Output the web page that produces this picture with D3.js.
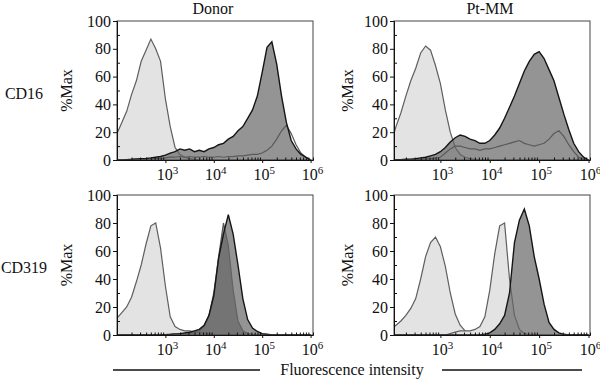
<!DOCTYPE html>
<html>
<head>
<meta charset="utf-8">
<script src="https://cdn.jsdelivr.net/npm/d3@7"></script>
<style>
  body { margin: 0; background: #fff; }
  svg { display: block; }
</style>
</head>
<body>
<div id="chart"></div>
<script>
// Histogram bins (log10 of fluorescence intensity)
const logBins = [2.0, 2.1, 2.2, 2.3, 2.4, 2.5, 2.6, 2.7, 2.8, 2.9,
                 3.0, 3.1, 3.2, 3.3, 3.4, 3.5, 3.6, 3.7, 3.8, 3.9,
                 4.0, 4.1, 4.2, 4.3, 4.4, 4.5, 4.6, 4.7, 4.8, 4.9,
                 5.0, 5.1, 5.2, 5.3, 5.4, 5.5, 5.6, 5.7, 5.8, 5.9, 6.0];

// %Max values per bin
const donorCD16Iso = [19, 27, 35, 47, 57, 71, 79, 87, 80, 71,
                      44, 24, 9, 4, 2, 1, 0.5, 0, 0, 0,
                      0, 0, 0, 0, 0, 0, 0, 0, 0, 0,
                      0, 0, 0, 0, 0, 0, 0, 0, 0, 0, 0];
const donorCD16A = [0, 0, 0.3, 0.5, 0.8, 1, 1.2, 1.5, 2, 2.5,
                    3.5, 5, 6, 8, 7, 8, 6, 7, 6, 8,
                    9, 11, 12, 15, 17, 21, 24, 30, 36, 46,
                    63, 81, 85, 69, 46, 27, 14, 8, 4, 2, 0];
const donorCD16B = [0, 0, 0, 0.3, 0.5, 0.5, 0.5, 0.8, 1, 1,
                    1.5, 2, 2, 2.5, 2, 2.5, 2, 2, 2.5, 2,
                    2, 2.5, 2, 2.5, 2.5, 3, 3, 3.5, 4, 4,
                    5, 7, 10, 15, 21, 25, 19, 11, 5, 2, 0];

const ptCD16Iso = [12, 24, 34, 46, 57, 66, 77, 82, 79, 68,
                   55, 36, 20, 9, 4, 2, 1, 0.5, 0, 0,
                   0, 0, 0, 0, 0, 0, 0, 0, 0, 0,
                   0, 0, 0, 0, 0, 0, 0, 0, 0, 0, 0];
const ptCD16A = [0, 0.2, 0.3, 0.5, 0.6, 1, 1.5, 2, 3, 4,
                 6, 9, 13, 16, 18, 17, 15, 14, 12, 12,
                 14, 18, 23, 30, 38, 46, 55, 64, 71, 76,
                 78, 73, 65, 57, 45, 33, 22, 12, 6, 2, 0];
const ptCD16B = [0, 0, 0, 0, 0.3, 0.5, 0.5, 0.8, 1, 1.5,
                 2, 5, 8, 10, 10, 9, 8, 8, 7, 8,
                 8, 9, 10, 11, 12, 13, 14, 12, 11, 10,
                 11, 12, 15, 19, 21, 17, 11, 6, 2, 0.5, 0];

const donorCD319Iso = [12, 16, 20, 27, 38, 50, 65, 78, 80, 62,
                       35, 13, 6, 4, 3, 3, 2, 2, 1.5, 1,
                       0.5, 0, 0, 0, 0, 0, 0, 0, 0, 0,
                       0, 0, 0, 0, 0, 0, 0, 0, 0, 0, 0];
const donorCD319A = [0, 0, 0, 0, 0, 0, 0, 0, 0, 0,
                     0.3, 0.3, 0.5, 0.5, 1, 1.5, 2, 3, 6, 14,
                     30, 56, 80, 64, 32, 10, 3, 1, 0.5, 0,
                     0, 0, 0, 0, 0, 0, 0, 0, 0, 0, 0];
const donorCD319B = [0, 0, 0, 0, 0, 0, 0, 0, 0, 0,
                     0.3, 0.5, 0.8, 1, 1.5, 2, 3, 4, 7, 14,
                     28, 55, 72, 86, 72, 50, 26, 11, 5, 2.5,
                     1, 0.5, 0, 0, 0, 0, 0, 0, 0, 0, 0];

const ptCD319Iso = [4, 7, 10, 14, 19, 26, 40, 56, 66, 70,
                    63, 49, 30, 15, 7, 3, 1.5, 0.5, 0, 0,
                    0, 0, 0, 0, 0, 0, 0, 0, 0, 0,
                    0, 0, 0, 0, 0, 0, 0, 0, 0, 0, 0];
const ptCD319B = [0, 0, 0, 0, 0, 0, 0, 0, 0, 0,
                  0, 0, 1, 2, 3, 3, 3, 4, 6, 13,
                  32, 58, 78, 80, 40, 14, 4, 1, 0.3, 0,
                  0, 0, 0, 0, 0, 0, 0, 0, 0, 0, 0];
const ptCD319A = [0, 0, 0, 0, 0, 0, 0, 0, 0, 0,
                  0, 0, 0, 0, 0, 0, 0, 0, 0, 0.5,
                  1.5, 4, 8, 14, 30, 66, 82, 90, 78, 56,
                  40, 22, 9, 4, 1.5, 0.5, 0, 0, 0, 0, 0];

const yTicks = [0, 20, 40, 60, 80, 100];
const xTickExps = [3, 4, 5, 6];
const colLabels = ["Donor", "Pt-MM"];
const rowLabels = ["CD16", "CD319"];
const xTitle = "Fluorescence intensity";

const serif = "'Liberation Serif', 'Times New Roman', serif";
const fontSize = 16;

// Layer styles
const styles = {
  light: { fill: "#e3e3e3", op: 1, stroke: "#5e5e5e" },
  dark: { fill: "#666", op: 0.7, stroke: "#151515" },
  darkGray: { fill: "#666", op: 0.7, stroke: "#555" },
  line: { fill: "none", op: 1, stroke: "#5a5a5a" }
};

const panels = [
  { col: 0, row: 0, layers: [
    { v: donorCD16Iso, s: "light" }, { v: donorCD16A, s: "dark" }, { v: donorCD16B, s: "line" }] },
  { col: 1, row: 0, layers: [
    { v: ptCD16Iso, s: "light" }, { v: ptCD16A, s: "dark" }, { v: ptCD16B, s: "line" }] },
  { col: 0, row: 1, layers: [
    { v: donorCD319Iso, s: "light" }, { v: donorCD319A, s: "darkGray" }, { v: donorCD319B, s: "dark" }] },
  { col: 1, row: 1, layers: [
    { v: ptCD319Iso, s: "light" }, { v: ptCD319B, s: "light" }, { v: ptCD319A, s: "dark" }] }
];

const cols = [
  { x0: 117, x1: 313, dom: [2.0, 6.05], yLab: 72 },
  { x0: 394, x1: 590, dom: [2.06, 6.03], yLab: 353 }
];
const rows = [{ y0: 21, y1: 160 }, { y0: 195, y1: 335 }];

const svg = d3.select("#chart").append("svg")
  .attr("width", 600)
  .attr("height", 380)
  .attr("font-family", serif);

panels.forEach((p, i) => {
  const c = cols[p.col], r = rows[p.row];
  const x = d3.scaleLog()
    .domain([Math.pow(10, c.dom[0]), Math.pow(10, c.dom[1])])
    .range([c.x0, c.x1]);
  const y = d3.scaleLinear().domain([0, 100]).range([r.y1, r.y0]);

  const clipId = "clip" + i;
  svg.append("clipPath").attr("id", clipId)
    .append("rect")
    .attr("x", c.x0).attr("y", r.y0)
    .attr("width", c.x1 - c.x0).attr("height", r.y1 - r.y0);

  const g = svg.append("g").attr("clip-path", `url(#${clipId})`);

  const area = d3.area()
    .x((d, k) => x(Math.pow(10, logBins[k])))
    .y0(y(0))
    .y1(d => y(d));
  const line = d3.line()
    .x((d, k) => x(Math.pow(10, logBins[k])))
    .y(d => y(d));

  // fills first, then outlines on top (black outlines last)
  p.layers.forEach(l => {
    const st = styles[l.s];
    if (st.fill !== "none") {
      g.append("path").datum(l.v)
        .attr("d", area)
        .attr("fill", st.fill)
        .attr("fill-opacity", st.op);
    }
    if (l.s === "light" || l.s === "darkGray") {
      g.append("path").datum(l.v)
        .attr("d", line)
        .attr("fill", "none")
        .attr("stroke", st.stroke)
        .attr("stroke-width", 1.2);
    }
  });
  p.layers.filter(l => l.s === "line").forEach(l => {
    g.append("path").datum(l.v)
      .attr("d", line)
      .attr("fill", "none")
      .attr("stroke", styles.line.stroke)
      .attr("stroke-width", 1.2);
  });
  p.layers.filter(l => l.s === "dark").forEach(l => {
    g.append("path").datum(l.v)
      .attr("d", line)
      .attr("fill", "none")
      .attr("stroke", styles.dark.stroke)
      .attr("stroke-width", 1.4);
  });

  // frame
  svg.append("rect")
    .attr("x", c.x0).attr("y", r.y0)
    .attr("width", c.x1 - c.x0).attr("height", r.y1 - r.y0)
    .attr("fill", "none")
    .attr("stroke", "#444")
    .attr("stroke-width", 1);

  // y axis
  const yAxis = svg.append("g")
    .attr("transform", `translate(${c.x0},0)`)
    .call(d3.axisLeft(y).tickValues(yTicks).tickSize(4).tickPadding(2))
    .attr("font-family", null)
    .attr("font-size", fontSize);
  yAxis.select(".domain").attr("stroke", "#111");
  yAxis.selectAll("text").attr("fill", "#111");
  yAxis.selectAll("line").attr("stroke", "#111");
  // minor y ticks inside
  svg.append("g").attr("transform", `translate(${c.x0},0)`)
    .call(d3.axisRight(y).tickValues([10, 30, 50, 70, 90]).tickSize(3).tickFormat(""))
    .call(a => a.select(".domain").remove())
    .selectAll("line").attr("stroke", "#111");

  // x axis: major + minor log ticks pointing inward
  const minor = [];
  [2, 3, 4, 5].forEach(e => {
    [2, 3, 4, 5, 6, 7, 8, 9].forEach(m => {
      const v = m * Math.pow(10, e);
      if (v >= x.domain()[0] && v <= x.domain()[1]) minor.push(v);
    });
  });
  const xAxis = svg.append("g")
    .attr("transform", `translate(0,${r.y1})`)
    .call(d3.axisTop(x).tickValues(minor).tickSize(2.5).tickFormat(""));
  xAxis.select(".domain").attr("stroke", "#111");
  xAxis.selectAll("line").attr("stroke", "#111");
  svg.append("g")
    .attr("transform", `translate(0,${r.y1})`)
    .call(d3.axisBottom(x).tickValues(xTickExps.map(e => Math.pow(10, e))).tickSize(3).tickFormat(""))
    .call(a => a.select(".domain").remove())
    .selectAll("line").attr("stroke", "#111");

  // x tick labels with superscripts
  xTickExps.forEach(e => {
    const t = svg.append("text")
      .attr("x", x(Math.pow(10, e)) + 2)
      .attr("y", r.y1 + 20)
      .attr("text-anchor", "middle")
      .attr("font-size", fontSize)
      .attr("fill", "#111");
    t.append("tspan").text("10");
    t.append("tspan").attr("font-size", 11).attr("dy", -6).text(e);
  });

  // %Max label
  svg.append("text")
    .attr("transform", `translate(${c.yLab},${(r.y0 + r.y1) / 2}) rotate(-90)`)
    .attr("text-anchor", "middle")
    .attr("font-size", fontSize)
    .attr("fill", "#111")
    .text("%Max");
});

// column titles
colLabels.forEach((t, i) => {
  svg.append("text")
    .attr("x", (cols[i].x0 + cols[i].x1) / 2 - 2)
    .attr("y", 14)
    .attr("text-anchor", "middle")
    .attr("font-size", fontSize)
    .attr("fill", "#111")
    .text(t);
});

// row labels
rowLabels.forEach((t, i) => {
  svg.append("text")
    .attr("x", 24)
    .attr("y", (rows[i].y0 + rows[i].y1) / 2 + 8)
    .attr("text-anchor", "middle")
    .attr("font-size", fontSize)
    .attr("fill", "#111")
    .text(t);
});

// shared x title with rules on both sides
svg.append("text")
  .attr("x", 352)
  .attr("y", 375)
  .attr("text-anchor", "middle")
  .attr("font-size", fontSize)
  .attr("fill", "#111")
  .text(xTitle);
svg.append("line").attr("x1", 113).attr("x2", 260).attr("y1", 370).attr("y2", 370)
  .attr("stroke", "#111").attr("stroke-width", 1.3);
svg.append("line").attr("x1", 442).attr("x2", 582).attr("y1", 370).attr("y2", 370)
  .attr("stroke", "#111").attr("stroke-width", 1.3);
</script>
</body>
</html>
